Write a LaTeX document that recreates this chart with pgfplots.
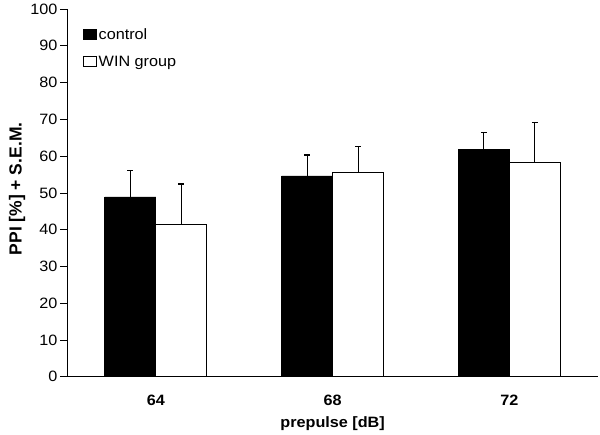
\documentclass[border=0pt]{standalone}
\usepackage{pgfplots}
\pgfplotsset{compat=1.18}
\usepackage{fontspec}
\setmainfont{Liberation Sans}
\newfontfamily\wide{Liberation Sans}[FakeStretch=1.08]
\pgfplotstableread{
x y e
0 48.9 7.1
1 54.6 5.7
2 61.8 4.6
}\control
\pgfplotstableread{
x y e
0 41.3 11.1
1 55.6 7.1
2 58.2 11.0
}\win
\begin{document}
\begin{tikzpicture}
\begin{axis}[
  scale only axis, width=530pt, height=367.7pt,
  ybar=0pt, bar width=51pt,
  xmin=-0.5, xmax=2.5, ymin=0, ymax=100,
  xtick={0,1,2}, xticklabels={64,68,72},
  ytick={0,10,...,100},
  axis x line*=bottom, axis y line*=left,
  axis line style={line width=1pt},
  tick align=outside,
  major tick length=7.5pt,
  ytick style={black, line width=0.8pt},
  xtick style={draw=none},
  /pgf/number format/assume math mode=true,
  ticklabel style={font=\wide\fontsize{15}{17}\selectfont},
  yticklabel style={xshift=1pt},
  xticklabel style={font=\wide\fontsize{15}{17}\selectfont\bfseries, anchor=base, yshift=-21.5pt},
  xlabel={prepulse [dB]}, ylabel={PPI [\%] + S.E.M.},
  xlabel style={font=\wide\fontsize{15}{17}\selectfont\bfseries, at={(axis description cs:0.5,-0.137)}, anchor=base},
  ylabel style={font=\fontsize{17.5}{19}\selectfont\bfseries, at={(axis description cs:-0.0953,0.511)}, anchor=center},
  legend style={draw=none, fill=none, at={(0.029,0.952)}, anchor=north west,
    font=\wide\fontsize{15}{17}\selectfont, row sep=11pt, inner sep=0pt, outer sep=0pt},
  legend image code/.code={\draw[#1, line width=0.8pt] (0pt,-4.5pt) rectangle (13pt,5.5pt);},
  legend cell align=left,
]
\addplot[fill=black, draw=black, line width=0.8pt,
  error bars/.cd, y dir=plus, y explicit,
  error bar style={black, line width=1.2pt},
  error mark options={rotate=90, mark size=3pt, line width=1.2pt}]
  table[x=x, y=y, y error=e] {\control};
\addplot[fill=white, draw=black, line width=1pt,
  error bars/.cd, y dir=plus, y explicit,
  error bar style={black, line width=1.2pt},
  error mark options={rotate=90, mark size=3pt, line width=1.2pt}]
  table[x=x, y=y, y error=e] {\win};
\legend{control, WIN group}
\end{axis}
\pgfresetboundingbox
\path[use as bounding box] ([xshift=-67.5pt, yshift=-57.3pt]current axis.south west) rectangle ([xshift=2.3pt, yshift=9pt]current axis.north east);
\end{tikzpicture}
\end{document}
